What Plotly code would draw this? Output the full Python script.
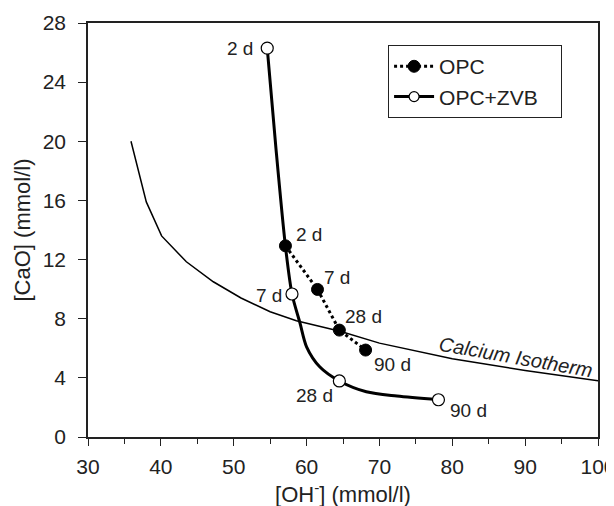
import plotly.graph_objects as go

# OPC (filled circles, dotted line)
opc_x = [57.1, 61.5, 64.5, 68.1]
opc_y = [12.93, 9.98, 7.23, 5.88]
opc_labels = ["2 d", "7 d", "28 d", "90 d"]

# OPC+ZVB (open circles, solid line)
zvb_x = [54.6, 58.0, 64.5, 78.1]
zvb_y = [26.3, 9.67, 3.79, 2.52]
zvb_labels = ["2 d", "7 d", "28 d", "90 d"]

# smooth trend curve through the OPC+ZVB points
zvb_curve_x = [54.6, 55.8, 57.1, 58.0, 59.1, 60.0, 61.8, 64.5, 68.2, 72.4, 78.1]
zvb_curve_y = [26.3, 19.5, 12.9, 9.67, 7.7, 6.1, 4.75, 3.79, 3.06, 2.77, 2.52]

# Calcium isotherm
iso_x = [35.9, 38.0, 40.1, 43.5, 47.2, 51.0, 55.0, 58.6, 64.6, 70.0, 80.0, 90.0, 100.0]
iso_y = [20.0, 15.9, 13.6, 11.85, 10.5, 9.4, 8.47, 7.86, 7.15, 6.35, 5.3, 4.5, 3.8]

x_ticks = [30, 40, 50, 60, 70, 80, 90, 100]
y_ticks = [0, 4, 8, 12, 16, 20, 24, 28]

FONT = "Liberation Sans, Arial, sans-serif"
INK = "#222222"

fig = go.Figure()

fig.add_trace(go.Scatter(x=iso_x, y=iso_y, mode="lines",
                         line=dict(color="black", width=1.5),
                         showlegend=False, hoverinfo="skip"))

fig.add_trace(go.Scatter(x=zvb_curve_x, y=zvb_curve_y, mode="lines",
                         line=dict(color="black", width=3, shape="spline", smoothing=0.8),
                         showlegend=False, hoverinfo="skip"))

fig.add_trace(go.Scatter(x=opc_x, y=opc_y, mode="lines+markers", name="OPC",
                         line=dict(color="black", width=3, dash="dot"),
                         marker=dict(symbol="circle", size=12, color="black",
                                     line=dict(color="black", width=1))))

fig.add_trace(go.Scatter(x=zvb_x, y=zvb_y, mode="markers", name="OPC+ZVB",
                         marker=dict(symbol="circle", size=12, color="white",
                                     line=dict(color="black", width=1.2)),
                         showlegend=False))

# legend-only entry for OPC+ZVB (solid line + open marker)
fig.add_trace(go.Scatter(x=[None], y=[None], mode="lines+markers",
                         name="OPC+ZVB&nbsp;&nbsp;&nbsp;",
                         line=dict(color="black", width=3),
                         marker=dict(symbol="circle", size=10, color="white",
                                     line=dict(color="black", width=1.2))))

opc_shift = [(24, 11), (19, 12), (24, 14), (27, -14)]
zvb_shift = [(-27, 0), (-23, -1), (-25, -15), (30, -11)]

for xv, yv, t, (dx, dy) in zip(opc_x, opc_y, opc_labels, opc_shift):
    fig.add_annotation(x=xv, y=yv, text=t, showarrow=False, xshift=dx, yshift=dy,
                       font=dict(size=19, color=INK, family=FONT))
for xv, yv, t, (dx, dy) in zip(zvb_x, zvb_y, zvb_labels, zvb_shift):
    fig.add_annotation(x=xv, y=yv, text=t, showarrow=False, xshift=dx, yshift=dy,
                       font=dict(size=19, color=INK, family=FONT))

fig.add_annotation(x=88.7, y=5.4, text="<i>Calcium Isotherm</i>", showarrow=False,
                   textangle=10, font=dict(size=20, color=INK, family=FONT))

# the page body adds an 8 px offset, so margins are shifted to compensate
fig.update_layout(
    width=614, height=506,
    margin=dict(l=80, r=24, t=15, b=77, autoexpand=False),
    paper_bgcolor="white", plot_bgcolor="white",
    font=dict(family=FONT, color=INK, size=21),
    legend=dict(x=0.588, y=0.947, xanchor="left", yanchor="top",
                bordercolor=INK, borderwidth=1.2, bgcolor="white",
                font=dict(size=21, family=FONT, color=INK),
                tracegroupgap=0, itemwidth=40),
    showlegend=True,
)

fig.update_xaxes(range=[30, 100], tickvals=x_ticks, ticktext=[str(v) for v in x_ticks],
                 automargin=False, ticklabeloverflow="allow", ticklabelstandoff=3,
                 showgrid=False, zeroline=False, showline=True, linecolor=INK, linewidth=1.5,
                 mirror=True, ticks="outside", ticklen=7, tickwidth=1.2, tickcolor=INK,
                 minor=dict(tickvals=[35, 45, 55, 65, 75, 85, 95], ticks="outside",
                            ticklen=5, tickwidth=1.2, tickcolor=INK),
                 tickfont=dict(size=21, family=FONT, color=INK),
                 title=dict(text="[OH<sup>-</sup>] (mmol/l)", standoff=10,
                            font=dict(size=22, family=FONT, color=INK)))

fig.update_yaxes(range=[0, 28], tickvals=y_ticks, ticktext=[str(v) for v in y_ticks],
                 automargin=False, ticklabeloverflow="allow",
                 showgrid=False, zeroline=False, showline=True, linecolor=INK, linewidth=1.5,
                 mirror=True, ticks="outside", ticklen=8, tickwidth=1.2, tickcolor=INK,
                 ticklabelstandoff=8,
                 tickfont=dict(size=21, family=FONT, color=INK),
                 title=dict(text="[CaO] (mmol/l)", standoff=6,
                            font=dict(size=22, family=FONT, color=INK)))

fig.write_html("out.html")
